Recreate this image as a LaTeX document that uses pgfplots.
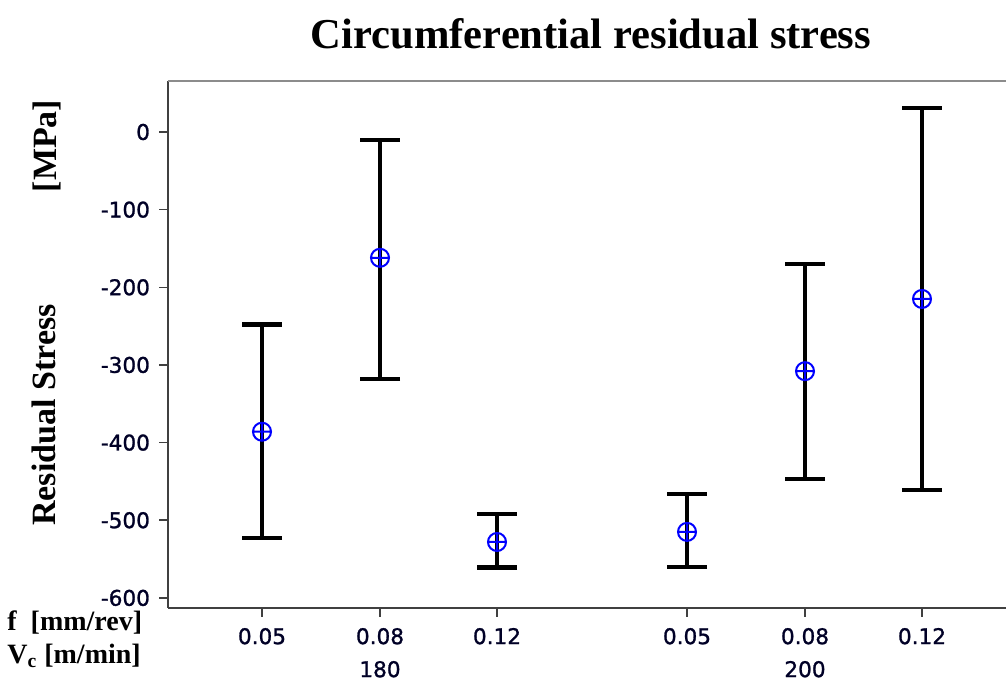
\documentclass[border=0pt]{standalone}
\usepackage{fontspec}
\setmainfont{Liberation Serif}
\newfontfamily\tickfont[FakeBold=1.2]{DejaVu Sans}
\usepackage{pgfplots}
\usepackage{pgfplotstable}
\pgfplotsset{compat=1.18}

% x: position in the row of tests, y: mean stress, ep/em: bar above/below
\pgfplotstableread{
x    y     ep   em
262  -386  138  137
380  -162  152  156
497  -528  36   33
687  -515  49   45
805  -308  138  139
922  -215  246  246
}\stress

\begin{document}
\begin{tikzpicture}
  \path[use as bounding box] (0,0) rectangle (503pt,342pt);
  \begin{axis}[
      at={(84pt,38pt)}, anchor=south west,
      scale only axis,
      width=419pt, height=263.5pt,
      xmin=168, xmax=1006,
      ymin=-613, ymax=65.7,
      axis lines*=left,
      axis line style={draw=black!75, line width=0.8pt},
      tick align=outside,
      major tick length=4.5pt,
      tick style={black!75, line width=0.8pt},
      xtick={262,380,497,687,805,922},
      xticklabels={0.05,{0.08\\180},0.12,0.05,{0.08\\200},0.12},
      ytick={0,-100,-200,-300,-400,-500,-600},
      /pgf/number format/assume math mode=true,
      ticklabel style={font=\tickfont\fontsize{10.8}{16.5}\selectfont, text=black!85!blue},
      xticklabel style={align=center, anchor=north, yshift=-2pt},
      yticklabel style={xshift=-1pt},
      clip=false,
    ]
    \addplot[only marks, mark=oplus, mark size=4.5pt, blue,
        mark options={line width=1pt},
        error bars/.cd, y dir=both, y explicit,
        error bar style={black, line width=2.2pt},
        error mark options={black, line width=2.2pt, mark size=10pt, rotate=90}]
      table[x=x, y=y, y error plus=ep, y error minus=em] {\stress};
    \draw[black!45, line width=0.8pt] (rel axis cs:0,1) -- (rel axis cs:1,1);
  \end{axis}
  \node[font=\fontsize{21.3}{24}\selectfont\bfseries] at (295.5pt,325pt) {Circumferential residual stress};
  \node[rotate=90, font=\fontsize{17}{20}\selectfont\bfseries] at (23.5pt,269pt) {[MPa]};
  \node[rotate=90, font=\fontsize{17}{20}\selectfont\bfseries] at (22pt,134.5pt) {Residual Stress};
  \node[anchor=west, inner sep=0pt, font=\fontsize{14}{16}\selectfont\bfseries] at (3.5pt,30.5pt) {f\ \ [mm/rev]};
  \node[anchor=west, inner sep=0pt, font=\fontsize{14}{16}\selectfont\bfseries] at (3.5pt,14pt) {V\textsubscript{c} [m/min]};
\end{tikzpicture}
\end{document}
